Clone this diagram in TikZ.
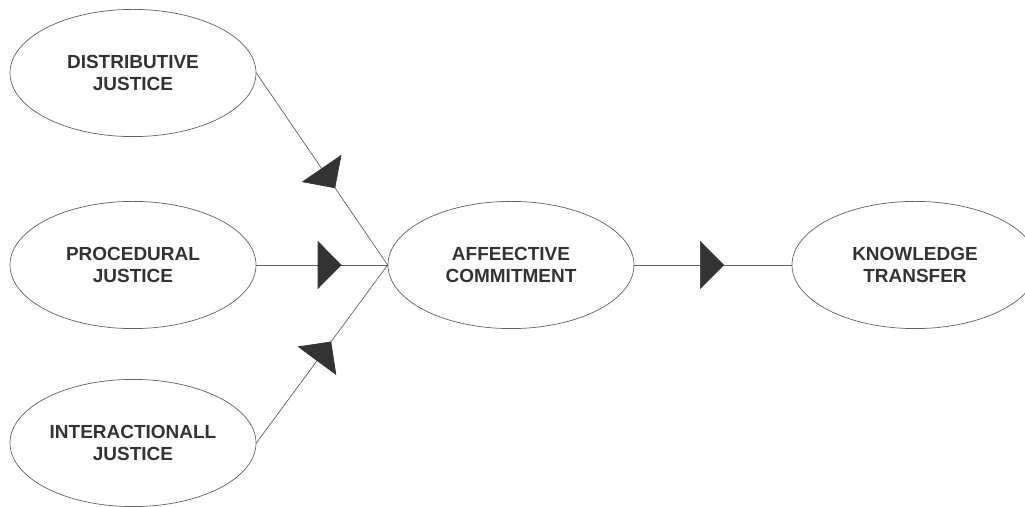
\documentclass[tikz,border=0pt]{standalone}
\usepackage{fontspec}
\setmainfont{Liberation Sans}
\usepackage{tikz}
\usetikzlibrary{arrows.meta,decorations.markings,shapes.geometric}
\definecolor{rrrrrr}{rgb}{0.2,0.2,0.2}
\definecolor{uuuuuu}{rgb}{0.38,0.38,0.38}
\begin{document}
\begin{tikzpicture}[line cap=round,line join=round,x=1.0cm,y=1.0cm,
construct/.style={ellipse,draw=uuuuuu,line width=0.5pt,minimum width=6.15cm,minimum height=3.18cm,inner sep=0pt,align=center,text=rrrrrr,font=\bfseries\fontsize{13.5}{15}\selectfont},
link/.style={draw=uuuuuu,line width=0.5pt,postaction={decorate},decoration={markings,mark=at position #1 with {\arrow[rrrrrr]{Triangle[length=0.6cm,width=1.2cm]}}}}]
\clip(0,0) rectangle (25.625,12.675);
\node[construct] (dist) at (3.325,10.85) {DISTRIBUTIVE\\JUSTICE};
\node[construct] (proc) at (3.325,6.05) {PROCEDURAL\\JUSTICE};
\node[construct] (inter) at (3.325,1.6) {INTERACTIONALL\\JUSTICE};
\node[construct] (aff) at (12.775,6.05) {AFFEECTIVE\\COMMITMENT};
\node[construct] (know) at (22.875,6.05) {KNOWLEDGE\\TRANSFER};
\draw[link=0.6] (dist.east) -- (aff.west);
\draw[link=0.65] (proc.east) -- (aff.west);
\draw[link=0.57] (inter.east) -- (aff.west);
\draw[link=0.57] (aff.east) -- (know.west);
\end{tikzpicture}
\end{document}
